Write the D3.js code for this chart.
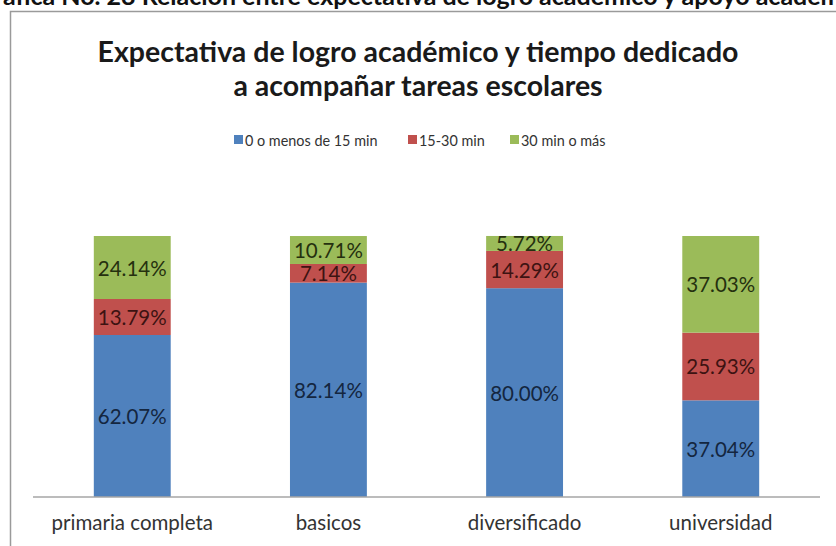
<!DOCTYPE html>
<html>
<head>
<meta charset="utf-8">
<script src="https://cdn.jsdelivr.net/npm/d3@7"></script>
<style>
  body { margin: 0; background: #fff; }
  svg { display: block; }
</style>
</head>
<body>
<svg id="chart" width="836" height="546"></svg>
<script>
// categories and series
var categories = ["primaria completa", "basicos", "diversificado", "universidad"]
var seriesNames = ["0 o menos de 15 min", "15-30 min", "30 min o más"]
var low = [62.07, 82.14, 80.00, 37.04]
var mid = [13.79, 7.14, 14.29, 25.93]
var high = [24.14, 10.71, 5.72, 37.03]
var colors = ["#4f81bd", "#c0504d", "#9bbb59"]
var labelColors = ["#14263f", "#3d1312", "#25300f"]

var rows = categories.map((c, i) => ({ cat: c, s0: low[i], s1: mid[i], s2: high[i] }))

var svg = d3.select("#chart")
var font = "Lato, 'Open Sans', sans-serif"

// caption of the page, cut off at the top edge
svg.append("text").attr("x", 425).attr("y", 5).attr("text-anchor", "middle")
    .attr("font-family", font).attr("font-weight", "bold").attr("font-size", 25)
    .attr("fill", "#111")
    .text("Gráfica No. 28 Relación entre expectativa de logro académico y apoyo académico")

// chart frame
svg.append("rect").attr("x", 10.5).attr("y", 11.5).attr("width", 900).attr("height", 600)
    .attr("fill", "#fff").attr("stroke", "#9a9a9a").attr("stroke-width", 1.5)

// title
var title = svg.append("text").attr("text-anchor", "middle")
    .attr("font-family", font).attr("font-weight", "bold").attr("font-size", 28.5).attr("fill", "#1a1a1a")
title.append("tspan").attr("x", 418).attr("y", 62).text("Expectativa de logro académico y tiempo dedicado")
title.append("tspan").attr("x", 418).attr("y", 96).text("a acompañar tareas escolares")

// legend
var legendX = [234, 408, 510]
var legend = svg.append("g").selectAll("g").data(seriesNames).join("g")
    .attr("transform", (d, i) => "translate(" + legendX[i] + ",140)")
legend.append("rect").attr("x", 0).attr("y", -5).attr("width", 9).attr("height", 9).attr("fill", (d, i) => colors[i])
legend.append("text").attr("x", 11).attr("y", 0).attr("dominant-baseline", "central")
    .attr("font-family", font).attr("font-size", 14.4).attr("fill", "#333").text(d => d)

// scales
var margin = { left: 33, right: 820, top: 236, bottom: 497 }
var x = d3.scaleBand().domain(categories).range([margin.left, margin.right]).paddingInner(0.608).paddingOuter(0.31)
var y = d3.scaleLinear().domain([0, 100]).range([margin.bottom, margin.top])

var stacked = d3.stack().keys(["s0", "s1", "s2"])(rows)

var layers = svg.append("g").selectAll("g").data(stacked).join("g").attr("fill", (d, i) => colors[i])
layers.selectAll("rect").data(d => d).join("rect")
    .attr("x", d => x(d.data.cat))
    .attr("width", x.bandwidth())
    .attr("y", d => y(d[1]))
    .attr("height", d => y(d[0]) - y(d[1]))

// value labels
svg.append("g").selectAll("g").data(stacked).join("g")
    .attr("fill", (d, i) => labelColors[i])
    .selectAll("text").data(d => d).join("text")
    .attr("x", d => x(d.data.cat) + x.bandwidth() / 2)
    .attr("y", d => (y(d[0]) + y(d[1])) / 2)
    .attr("text-anchor", "middle").attr("dominant-baseline", "central")
    .attr("font-family", font).attr("font-size", 20.5)
    .text(d => (d[1] - d[0]).toFixed(2) + "%")

// x axis
var xAxis = svg.append("g").attr("transform", "translate(0," + margin.bottom + ")")
    .call(d3.axisBottom(x).tickSize(0).tickPadding(18))
xAxis.select(".domain").attr("stroke", "#a6a6a6").attr("stroke-width", 1.5)
    .attr("d", "M" + margin.left + ",0H" + margin.right)
xAxis.selectAll("text").attr("font-family", font).attr("font-size", 20.5).attr("fill", "#333")
</script>
</body>
</html>
